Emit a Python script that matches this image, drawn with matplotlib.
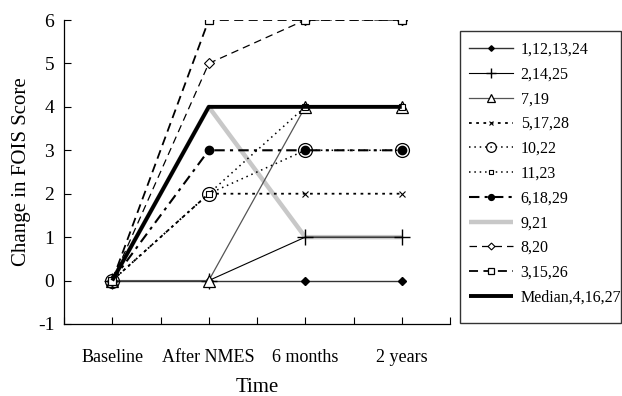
import matplotlib
matplotlib.use("Agg")
import matplotlib.pyplot as plt
from matplotlib.patches import Rectangle

plt.rcParams['font.family'] = ['Liberation Serif', 'DejaVu Serif']
plt.rcParams['axes.unicode_minus'] = False

time_labels = ["Baseline", "After NMES", "6 months", "2 years"]
x_pos = [1, 2, 3, 4]

s_1_12_13_24 = [0, 0, 0, 0]
s_2_14_25 = [0, 0, 1, 1]
s_7_19 = [0, 0, 4, 4]
s_5_17_28 = [0, 2, 2, 2]
s_10_22 = [0, 2, 3, 3]
s_11_23 = [0, 2, 4, 4]
s_6_18_29 = [0, 3, 3, 3]
s_9_21 = [0, 4, 1, 1]
s_8_20 = [0, 5, 6, 6]
s_3_15_26 = [0, 6, 6, 6]
s_median = [0, 4, 4, 4]

fig = plt.figure(figsize=(6.22, 3.96), dpi=100)
ax = fig.add_axes([64/622, 1-324/396, (450-64)/622, (324-20)/396])

h = []
h += ax.plot(x_pos, s_1_12_13_24, color='#333333', lw=1.0, marker='D', ms=4,
             mfc='black', mec='black', label='1,12,13,24', zorder=3)
h += ax.plot(x_pos, s_2_14_25, color='black', lw=0.8, marker='+', ms=11,
             mew=1.0, mec='black', label='2,14,25', zorder=3)
h += ax.plot(x_pos, s_7_19, color='#555555', lw=0.9, marker='^', ms=8,
             mfc='white', mec='black', mew=0.9, label='7,19', zorder=3)
h += ax.plot(x_pos, s_5_17_28, color='black', lw=1.3, ls=(0, (1.5, 2.5)), marker='x', ms=4,
             mew=0.8, mec='black', label='5,17,28', zorder=3)
h += ax.plot(x_pos, s_10_22, color='black', lw=1.1, ls=(0, (1, 2.5)), marker='o', ms=10,
             mfc='none', mec='black', mew=0.9, label='10,22', zorder=3)
h += ax.plot(x_pos, s_11_23, color='black', lw=1.1, ls=(0, (1, 2.5)), marker='s', ms=5,
             mfc='white', mec='black', mew=0.8, label='11,23', zorder=3)
h += ax.plot(x_pos, s_6_18_29, color='black', lw=1.5, ls=(0, (5, 2.5, 1.5, 2.5)), marker='o', ms=6,
             mfc='black', mec='black', label='6,18,29', zorder=3)
h += ax.plot(x_pos, s_9_21, color='#c8c8c8', lw=3.2, solid_capstyle='butt',
             label='9,21', zorder=2)
h += ax.plot(x_pos, s_8_20, color='black', lw=0.9, ls=(0, (6, 4)), marker='D', ms=5,
             mfc='white', mec='black', mew=0.8, label='8,20', zorder=3)
h += ax.plot(x_pos, s_3_15_26, color='black', lw=1.3, ls=(0, (5, 3)), marker='s', ms=6,
             mfc='white', mec='black', mew=0.9, label='3,15,26', zorder=3)
h += ax.plot(x_pos, s_median, color='black', lw=2.8, solid_capstyle='butt',
             label='Median,4,16,27', zorder=4)

ax.set_xlim(0.5, 4.5)
ax.set_ylim(-1, 6)
ax.set_xticks([0.5, 1, 1.5, 2, 2.5, 3, 3.5, 4, 4.5])
ax.set_xticklabels(['', time_labels[0], '', time_labels[1], '', time_labels[2], '', time_labels[3], ''])
ax.set_yticks(range(-1, 7))
ax.tick_params(axis='both', direction='in', length=5, width=0.8, pad=7)
ax.tick_params(axis='x', pad=18, labelsize=13)
ax.tick_params(axis='y', labelsize=14)
for s in ['top', 'right']:
    ax.spines[s].set_visible(False)
for s in ['left', 'bottom']:
    ax.spines[s].set_linewidth(0.9)

ax.set_ylabel('Change in FOIS Score', fontsize=15, labelpad=5)
ax.set_xlabel('Time', fontsize=15, labelpad=9)

# legend frame drawn as a rectangle in figure pixel space
fig.patches.append(Rectangle((460/622, 1-323/396), (621-460)/622, (323-31)/396,
                             transform=fig.transFigure, fill=False,
                             edgecolor='#333333', linewidth=1.0))
leg = fig.legend(handles=h, loc='upper left', bbox_to_anchor=(460/622, 1-33/396),
                 frameon=False, fontsize=11.5, markerscale=0.7,
                 handlelength=2.75, handletextpad=0.5, labelspacing=0.55,
                 borderpad=0.55, borderaxespad=0.0)

fig.savefig('out.png', dpi=100)
